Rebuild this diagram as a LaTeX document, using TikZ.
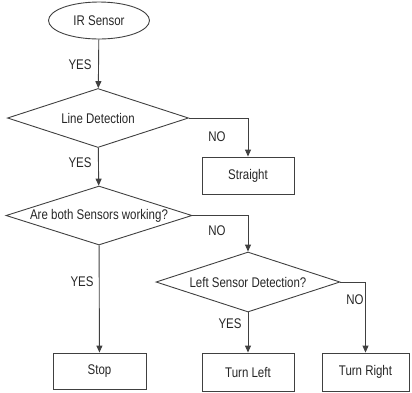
\documentclass[tikz,border=0pt]{standalone}
\usepackage{fontspec}
\setmainfont{Liberation Sans}[FakeStretch=0.82]
\usetikzlibrary{shapes.geometric,arrows.meta}
\begin{document}
\begin{tikzpicture}[x=1pt,y=-1pt,
  every node/.style={font=\fontsize{14}{16}\selectfont, text=black!85},
  shp/.style={draw=black!75, line width=0.9pt, inner sep=0pt},
  oval/.style={shp, ellipse},
  decision/.style={shp, diamond, aspect=3},
  box/.style={shp, rectangle},
  conn/.style={draw=black!75, line width=0.9pt, -{Triangle[width=6pt,length=7pt]}},
  lbl/.style={inner sep=0pt}]
\useasboundingbox (0,0) rectangle (412,392);
\node[oval, minimum width=101pt, minimum height=37pt] (ir) at (99,20.5) {IR Sensor};
\node[decision, minimum width=181pt, minimum height=59pt] (ld) at (98,118) {Line Detection};
\node[box, minimum width=92pt, minimum height=37pt] (st) at (248,175.5) {Straight};
\node[decision, minimum width=186pt, minimum height=57pt] (ab) at (99,215.5) {Are both Sensors working?};
\node[decision, minimum width=184pt, minimum height=60pt] (lsd) at (248,282) {Left Sensor Detection?};
\node[box, minimum width=93pt, minimum height=36pt] (stop) at (99.5,371) {Stop};
\node[box, minimum width=92pt, minimum height=38pt] (tl) at (248,372) {Turn Left};
\node[box, minimum width=87pt, minimum height=38pt] (tr) at (365.5,372) {Turn Right};

\draw[conn] (ir) -- (ld);
\draw[conn] (ld.east) -| (st.north);
\draw[conn] (ld) -- (ab);
\draw[conn] (ab.east) -| (lsd.north);
\draw[conn] (ab) -- (stop);
\draw[conn] (lsd) -- (tl);
\draw[conn] (lsd.east) -| (tr.north);

\node[lbl] (y1) at (80,65) {YES};
\node[lbl] (y2) at (80,163) {YES};
\node[lbl] (n1) at (217,137) {NO};
\node[lbl] (n2) at (217,231) {NO};
\node[lbl] (y3) at (82,282) {YES};
\node[lbl] (n3) at (355,300) {NO};
\node[lbl] (y4) at (230,324) {YES};
\end{tikzpicture}
\end{document}
